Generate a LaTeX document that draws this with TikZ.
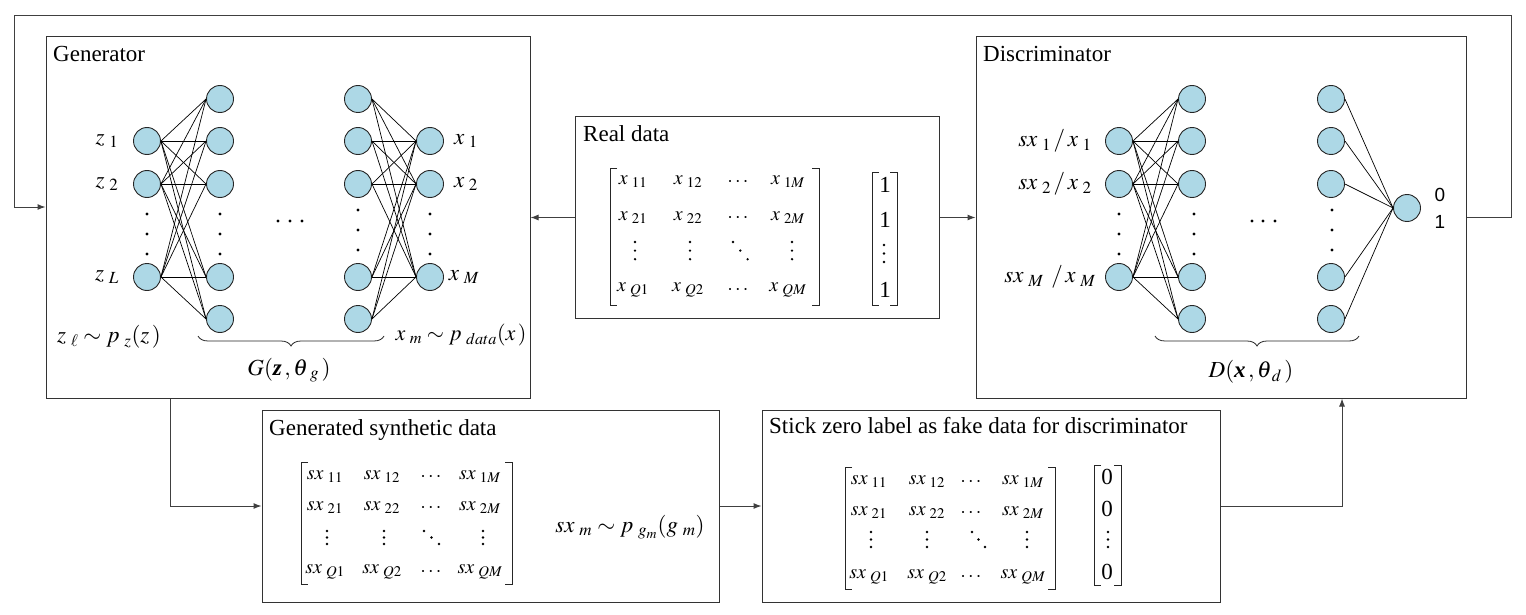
\documentclass[tikz,border=0pt]{standalone}
\usepackage{amsmath}
\usepackage{mathptmx}
\usepackage{fontspec}
\setmainfont{Liberation Serif}
\newfontfamily\sansf{Liberation Sans}
\usetikzlibrary{arrows.meta,decorations.pathreplacing}
\definecolor{nfill}{RGB}{173,216,230}
\newcommand\brkL[3]{\draw[brk] (#1+7,#2) -- (#1,#2) -- (#1,#3) -- (#1+7,#3);}
\newcommand\brkR[3]{\draw[brk] (#1-7,#2) -- (#1,#2) -- (#1,#3) -- (#1-7,#3);}
\newcommand\sbs[1]{_{\mkern5mu #1}}
% three dots: x, y of first dot, dx, dy step
\newcommand\tridots[4]{\foreach \k in {0,1,2} \fill (#1+\k*#3,#2+\k*#4) circle (1.3);}
\newcommand\bsym[1]{\mbox{\bfseries\itshape #1}}
\begin{document}
\begin{tikzpicture}[x=1pt,y=-1pt,
 neuron/.style={circle, draw=black!85, fill=nfill, minimum size=27pt, inner sep=0pt, line width=0.9pt},
 box/.style={draw=black!80, line width=1pt, inner sep=0pt},
 title/.style={anchor=base west, inner sep=0pt, font=\fontsize{23}{27}\selectfont},
 lab/.style={inner sep=0pt, font=\fontsize{23}{27}\selectfont},
 ent/.style={inner sep=0pt, font=\fontsize{20}{24}\selectfont},
 edge/.style={line width=0.7pt, black},
 arr/.style={draw=black!75, line width=1pt, -{Latex[length=8pt,width=6pt]}},
 brk/.style={line width=1pt, black!85},
]
\useasboundingbox (0,0) rectangle (1526,615);
\fill[white] (0,0) rectangle (1526,615);

% ---- boxes
\node[box, minimum width=484pt, minimum height=361pt] (gen) at (288,217.5) {};
\node[box, minimum width=364pt, minimum height=201pt] (real) at (757,217.5) {};
\node[box, minimum width=490pt, minimum height=361pt] (disc) at (1221,217.5) {};
\node[box, minimum width=457pt, minimum height=192pt] (gsyn) at (490.5,506) {};
\node[box, minimum width=458pt, minimum height=192pt] (stick) at (991,506) {};

\node[title] (tgen) at (53,62) {Generator};
\node[title] (tdisc) at (983,62) {Discriminator};
\node[title] (treal) at (583,142) {Real data};
\node[title] (tgsyn) at (269,435) {Generated synthetic data};
\node[title] (tstick) at (769,433) {Stick zero label as fake data for discriminator};

% ---- networks
\foreach \n/\y in {a/141,b/184,c/277} {
  \node[neuron] (g1\n) at (147,\y) {};
  \node[neuron] (g4\n) at (430,\y) {};
  \node[neuron] (d1\n) at (1119,\y) {};
}
\foreach \n/\y in {a/99,b/141,c/184,d/277,e/319} {
  \node[neuron] (g2\n) at (220,\y) {};
  \node[neuron] (g3\n) at (358,\y) {};
  \node[neuron] (d2\n) at (1192,\y) {};
  \node[neuron] (d3\n) at (1331,\y) {};
}
\node[neuron] (d4) at (1407,208) {};

\foreach \a in {a,b,c} \foreach \b in {a,b,c,d,e} {
  \draw[edge] (g1\a.east) -- (g2\b.west);
  \draw[edge] (g3\b.east) -- (g4\a.west);
  \draw[edge] (d1\a.east) -- (d2\b.west);
}
\foreach \b in {a,b,c,d,e} \draw[edge] (d3\b.east) -- (d4.west);

% dots
\foreach \x in {147,220,430,1119,1194} \foreach \y in {214,234,254} \fill (\x,\y) circle (1.6);
\foreach \x in {358,1332} \foreach \y in {210,230,250} \fill (\x,\y) circle (1.6);
\foreach \x in {278,290,302,1252,1263,1275} \fill (\x,221) circle (1.6);

% labels
\node[lab] (lz1) at (107,141) {$z\sbs{1}$};
\node[lab] (lz2) at (107,184) {$z\sbs{2}$};
\node[lab] (lzL) at (107,277) {$z\sbs{L}$};
\node[lab] (lx1) at (466,141) {$x\sbs{1}$};
\node[lab] (lx2) at (466,184) {$x\sbs{2}$};
\node[lab] (lxM) at (464,277) {$x\sbs{M}$};
\node[lab] (pz) at (109,337) {$z\sbs{\ell}\sim p\sbs{z}(z\,)$};
\node[lab, font=\fontsize{22}{26}\selectfont] (px) at (461,335) {$x\sbs{m}\sim p\sbs{data}(x\,)$};
\node[lab] (Gf) at (289,370) {$G(\bsym{z}\,,\theta\sbs{g}\,)$};
\node[lab] (ls1) at (1055,141) {$sx\sbs{1}\,/\,x\sbs{1}$};
\node[lab] (ls2) at (1055,184) {$sx\sbs{2}\,/\,x\sbs{2}$};
\node[lab] (lsM) at (1050,277) {$sx\sbs{M}\;\,/\,x\sbs{M}$};
\node[lab] (Df) at (1251,372) {$D(\bsym{x}\,,\theta_{\mkern3mu d}\,)$};
\node[inner sep=0pt, font=\sansf\fontsize{19}{22}\selectfont] (o0) at (1440,195) {0};
\node[inner sep=0pt, font=\sansf\fontsize{19}{22}\selectfont] (o1) at (1440,222) {1};

\draw[brk, line width=0.8pt, decorate, decoration={brace, mirror, amplitude=10pt}] (198,336) -- (384,336);
\draw[brk, line width=0.8pt, decorate, decoration={brace, mirror, amplitude=10pt}] (1155,336) -- (1359,336);

% ---- real data matrix
\brkL{610}{168}{305} \brkR{819}{168}{305}
\node[ent] (r11) at (633,182) {$x\sbs{11}$};
\node[ent] (r12) at (688,182) {$x\sbs{12}$};
\node[ent] (r13) at (739,182) {$\cdots$};
\node[ent] (r14) at (788,182) {$x\sbs{1M}$};
\node[ent] (r21) at (633,218) {$x\sbs{21}$};
\node[ent] (r22) at (688,218) {$x\sbs{22}$};
\node[ent] (r23) at (739,218) {$\cdots$};
\node[ent] (r24) at (788,218) {$x\sbs{2M}$};
\tridots{635}{242}{0}{8.6}
\tridots{690}{242}{0}{8.6}
\tridots{733}{242}{7.3}{8.6}
\tridots{792}{242}{0}{8.6}
\node[ent] (r41) at (633,290) {$x\sbs{Q1}$};
\node[ent] (r42) at (688,290) {$x\sbs{Q2}$};
\node[ent] (r43) at (739,290) {$\cdots$};
\node[ent] (r44) at (788,290) {$x\sbs{QM}$};
\brkL{872}{172}{305} \brkR{897}{172}{305}
\node[lab] (v1) at (885,185) {1};
\node[lab] (v2) at (885,220) {1};
\tridots{884}{245}{0}{8.5}
\node[lab] (v4) at (885,290) {1};

% ---- generated synthetic data matrix
\brkL{301}{462}{584} \brkR{512}{462}{584}
\node[ent] (s11) at (325,477) {$sx\sbs{11}$};
\node[ent] (s12) at (382,477) {$sx\sbs{12}$};
\node[ent] (s13) at (432,477) {$\cdots$};
\node[ent] (s14) at (480,477) {$sx\sbs{1M}$};
\node[ent] (s21) at (325,508) {$sx\sbs{21}$};
\node[ent] (s22) at (382,508) {$sx\sbs{22}$};
\node[ent] (s23) at (432,508) {$\cdots$};
\node[ent] (s24) at (480,508) {$sx\sbs{2M}$};
\tridots{327}{531}{0}{6.5}
\tridots{384}{531}{0}{6.5}
\tridots{424}{531}{7.5}{6.5}
\tridots{483}{531}{0}{6.5}
\node[ent] (s41) at (325,572) {$sx\sbs{Q1}$};
\node[ent] (s42) at (382,572) {$sx\sbs{Q2}$};
\node[ent] (s43) at (432,572) {$\cdots$};
\node[ent] (s44) at (480,572) {$sx\sbs{QM}$};
\node[lab] (pg) at (630,527) {$sx\sbs{m}\sim p\sbs{g_m}(g\sbs{m})$};

% ---- stick zero label matrix
\brkL{845}{467}{589} \brkR{1055}{467}{589}
\node[ent] (t11) at (869,482) {$sx\sbs{11}$};
\node[ent] (t12) at (927,482) {$sx\sbs{12}$};
\node[ent] (t13) at (972,482) {$\cdots$};
\node[ent] (t14) at (1023,482) {$sx\sbs{1M}$};
\node[ent] (t21) at (869,513) {$sx\sbs{21}$};
\node[ent] (t22) at (927,513) {$sx\sbs{22}$};
\node[ent] (t23) at (972,513) {$\cdots$};
\node[ent] (t24) at (1023,513) {$sx\sbs{2M}$};
\tridots{871}{532}{0}{7.5}
\tridots{927}{532}{0}{7.5}
\tridots{972}{532}{6.5}{7.5}
\tridots{1027}{532}{0}{7.5}
\node[ent] (t41) at (869,577) {$sx\sbs{Q1}$};
\node[ent] (t42) at (927,577) {$sx\sbs{Q2}$};
\node[ent] (t43) at (972,577) {$\cdots$};
\node[ent] (t44) at (1023,577) {$sx\sbs{QM}$};
\brkL{1094}{465}{585} \brkR{1121}{465}{585}
\node[lab] (z1) at (1107,477) {0};
\node[lab] (z2) at (1107,509) {0};
\tridots{1108}{532}{0}{7.5}
\node[lab] (z4) at (1107,572) {0};

% ---- connectors
\coordinate (loopR) at (1511,16);
\coordinate (loopL) at (14,16);
\draw[arr] (disc.east) -| (loopR) -- (loopL) |- ([yshift=10.5pt]gen.west);
\draw[arr] (real.west) -- (gen.east);
\draw[arr] (real.east) -- (disc.west);
\draw[arr] ([xshift=-118pt]gen.south) |- (gsyn.west);
\draw[arr] (gsyn.east) -- (stick.west);
\draw[arr] (stick.east) -| ([xshift=121pt]disc.south);
\end{tikzpicture}
\end{document}
